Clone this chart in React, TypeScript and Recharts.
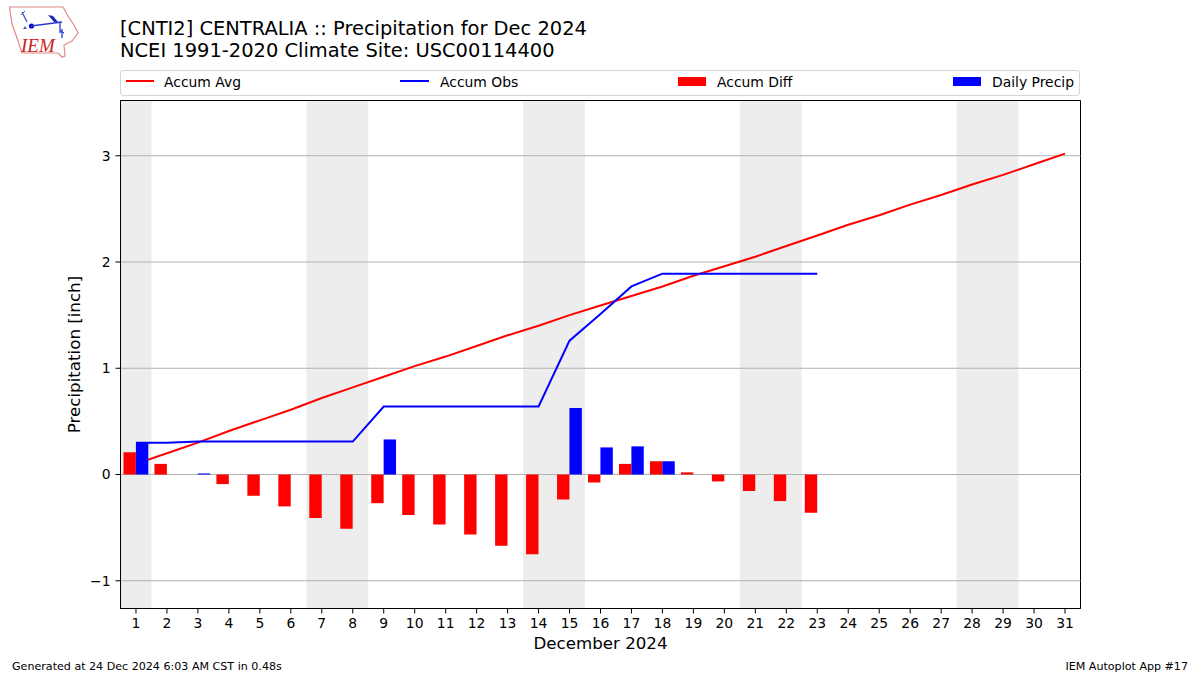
import React from 'react'
import {
  ComposedChart,
  Bar,
  Line,
  XAxis,
  YAxis,
  ReferenceArea,
  ReferenceLine,
  Label,
} from 'recharts'

const days = [
  1, 2, 3, 4, 5, 6, 7, 8, 9, 10, 11, 12, 13, 14, 15, 16, 17, 18, 19, 20, 21, 22, 23, 24, 25, 26,
  27, 28, 29, 30, 31,
]
const accumAvg = [
  0.1, 0.2, 0.3, 0.41, 0.51, 0.61, 0.72, 0.82, 0.92, 1.02, 1.11, 1.21, 1.31, 1.4, 1.5, 1.59, 1.68,
  1.77, 1.87, 1.96, 2.05, 2.15, 2.25, 2.35, 2.44, 2.54, 2.63, 2.73, 2.82, 2.92, 3.02,
]
const accumObs = [
  0.3, 0.3, 0.31, 0.31, 0.31, 0.31, 0.31, 0.31, 0.64, 0.64, 0.64, 0.64, 0.64, 0.64, 1.26, 1.51,
  1.77, 1.89, 1.89, 1.89, 1.89, 1.89, 1.89,
]
const accumDiff = [
  0.21, 0.1, 0, -0.09, -0.2, -0.3, -0.41, -0.51, -0.27, -0.38, -0.47, -0.565, -0.67, -0.75, -0.235,
  -0.075, 0.1, 0.125, 0.02, -0.065, -0.155, -0.25, -0.36,
]
const dailyPrecip = [
  0.3, 0, 0.01, 0, 0, 0, 0, 0, 0.33, 0, 0, 0, 0, 0, 0.625, 0.255, 0.265, 0.125, 0, 0, 0, 0, 0,
]
const weekends = [
  [0.5, 1.5],
  [6.5, 8.5],
  [13.5, 15.5],
  [20.5, 22.5],
  [27.5, 29.5],
]
const yTicks = [-1, 0, 1, 2, 3]

const data = days.map((day, i) => ({
  day,
  avg: accumAvg[i],
  obs: accumObs[i],
  diff: accumDiff[i],
  daily: dailyPrecip[i],
}))

const FONT = '"DejaVu Sans", sans-serif'
const X_MIN = 0.5
const X_MAX = 31.5
const Y_MIN = -1.261
const Y_MAX = 3.52

function Logo() {
  return (
    <svg width={90} height={62} style={{ position: 'absolute', left: 0, top: 0 }}>
      <path
        d="M9.5 7 L63 7 L68 16 L74 25 L78 33 L72 41 L64 45 L65 56 L62 57 L58 53 L22 53 L17 38 L12 24 Z"
        fill="#fff"
        stroke="#e08a8a"
        strokeWidth={1.2}
      />
      <path d="M22 12 L27 22" stroke="#3c50c8" strokeWidth={1.2} fill="none" />
      <path d="M21 15 L25 11" stroke="#3c50c8" strokeWidth={1} fill="none" />
      <circle cx={31.5} cy={26} r={2.6} fill="#0a0ad0" />
      <path d="M31 26 L62 22" stroke="#2a3ad0" strokeWidth={1.4} fill="none" />
      <path d="M48 15 L53 16 L58 22 L54 22 Z" fill="#1a2ac0" />
      <path d="M60 22 L60 33 M60 31 L64 33 M62 29 L62 38" stroke="#2a3ad0" strokeWidth={1.3} />
      <path d="M23 29 L25 26 L27 29 Z" fill="#5060c0" />
      <text
        x={21}
        y={52}
        fontFamily='"Liberation Serif", serif'
        fontStyle="italic"
        fontSize={19}
        fill="#cc2222"
      >
        IEM
      </text>
    </svg>
  )
}

function LegendBox() {
  const textStyle: React.CSSProperties = {
    position: 'absolute',
    top: 2,
    fontSize: 13.9,
    lineHeight: '18px',
    color: '#000',
    whiteSpace: 'nowrap',
  }
  return (
    <div
      style={{
        position: 'absolute',
        left: 120,
        top: 70,
        width: 958,
        height: 24,
        border: '1px solid #d5d5d5',
        borderRadius: 3,
        background: '#fff',
      }}
    >
      <div style={{ position: 'absolute', left: 5, top: 9, width: 28, height: 2, background: '#f00' }} />
      <div style={{ ...textStyle, left: 43 }}>Accum Avg</div>
      <div style={{ position: 'absolute', left: 279, top: 9, width: 29, height: 2, background: '#00f' }} />
      <div style={{ ...textStyle, left: 319 }}>Accum Obs</div>
      <div style={{ position: 'absolute', left: 557, top: 6, width: 28, height: 9, background: '#f00' }} />
      <div style={{ ...textStyle, left: 596 }}>Accum Diff</div>
      <div style={{ position: 'absolute', left: 832, top: 6, width: 28, height: 9, background: '#00f' }} />
      <div style={{ ...textStyle, left: 871 }}>Daily Precip</div>
    </div>
  )
}

export default function App() {
  return (
    <div
      style={{
        position: 'absolute',
        left: 0,
        top: 0,
        width: 1200,
        height: 675,
        background: '#fff',
        fontFamily: FONT,
        overflow: 'hidden',
      }}
    >
      <Logo />
      <div
        style={{
          position: 'absolute',
          left: 120,
          top: 18,
          fontSize: 19.44,
          lineHeight: '22px',
          whiteSpace: 'nowrap',
        }}
      >
        [CNTI2] CENTRALIA :: Precipitation for Dec 2024
        <br />
        NCEI 1991-2020 Climate Site: USC00114400
      </div>
      <LegendBox />
      <div style={{ position: 'absolute', left: 0, top: 0 }}>
        <ComposedChart
          width={1200}
          height={675}
          data={data}
          barSize={12.4}
          barGap={0}
          margin={{ top: 100.5, right: 119.5, bottom: 0, left: 60.5 }}
          style={{ fontFamily: FONT }}
        >
          {weekends.map(([x1, x2]) => (
            <ReferenceArea
              key={x1}
              x1={x1}
              x2={x2}
              y1={Y_MIN}
              y2={Y_MAX}
              fill="#000"
              fillOpacity={0.07}
              stroke="none"
            />
          ))}
          {yTicks.map((t) => (
            <ReferenceLine key={t} y={t} stroke="#b0b0b0" strokeWidth={1} />
          ))}
          <XAxis
            dataKey="day"
            type="number"
            domain={[X_MIN, X_MAX]}
            ticks={days}
            interval={0}
            allowDecimals
            height={66.5}
            tickSize={5}
            tickMargin={5}
            stroke="#000"
            tick={{ fill: '#000', fontSize: 13.9 }}
          >
            <Label value="December 2024" position="insideTop" offset={29} fontSize={16.67} fill="#000" />
          </XAxis>
          <YAxis
            type="number"
            domain={[Y_MIN, Y_MAX]}
            ticks={yTicks}
            allowDataOverflow
            width={60}
            tickSize={5}
            tickMargin={5}
            stroke="#000"
            tick={{ fill: '#000', fontSize: 13.9 }}
            tickFormatter={(v: number) => (v < 0 ? `\u2212${Math.abs(v)}` : `${v}`)}
          >
            <Label
              value="Precipitation [inch]"
              angle={-90}
              position="insideLeft"
              offset={14}
              fontSize={16.67}
              fill="#000"
              style={{ textAnchor: 'middle' }}
            />
          </YAxis>
          <Line
            dataKey="avg"
            stroke="#f00"
            strokeWidth={2}
            dot={false}
            activeDot={false}
            isAnimationActive={false}
          />
          <Line
            dataKey="obs"
            stroke="#00f"
            strokeWidth={2}
            dot={false}
            activeDot={false}
            isAnimationActive={false}
          />
          <Bar dataKey="diff" fill="#f00" zIndex={450} isAnimationActive={false} />
          <Bar dataKey="daily" fill="#00f" zIndex={450} isAnimationActive={false} />
          <ReferenceArea
            x1={X_MIN}
            x2={X_MAX}
            y1={Y_MIN}
            y2={Y_MAX}
            fill="none"
            stroke="#000"
            strokeWidth={1}
          />
        </ComposedChart>
      </div>
      <div style={{ position: 'absolute', left: 12, top: 660, fontSize: 11.1, lineHeight: '13px' }}>
        Generated at 24 Dec 2024 6:03 AM CST in 0.48s
      </div>
      <div style={{ position: 'absolute', right: 12, top: 660, fontSize: 11.1, lineHeight: '13px' }}>
        IEM Autoplot App #17
      </div>
    </div>
  )
}
